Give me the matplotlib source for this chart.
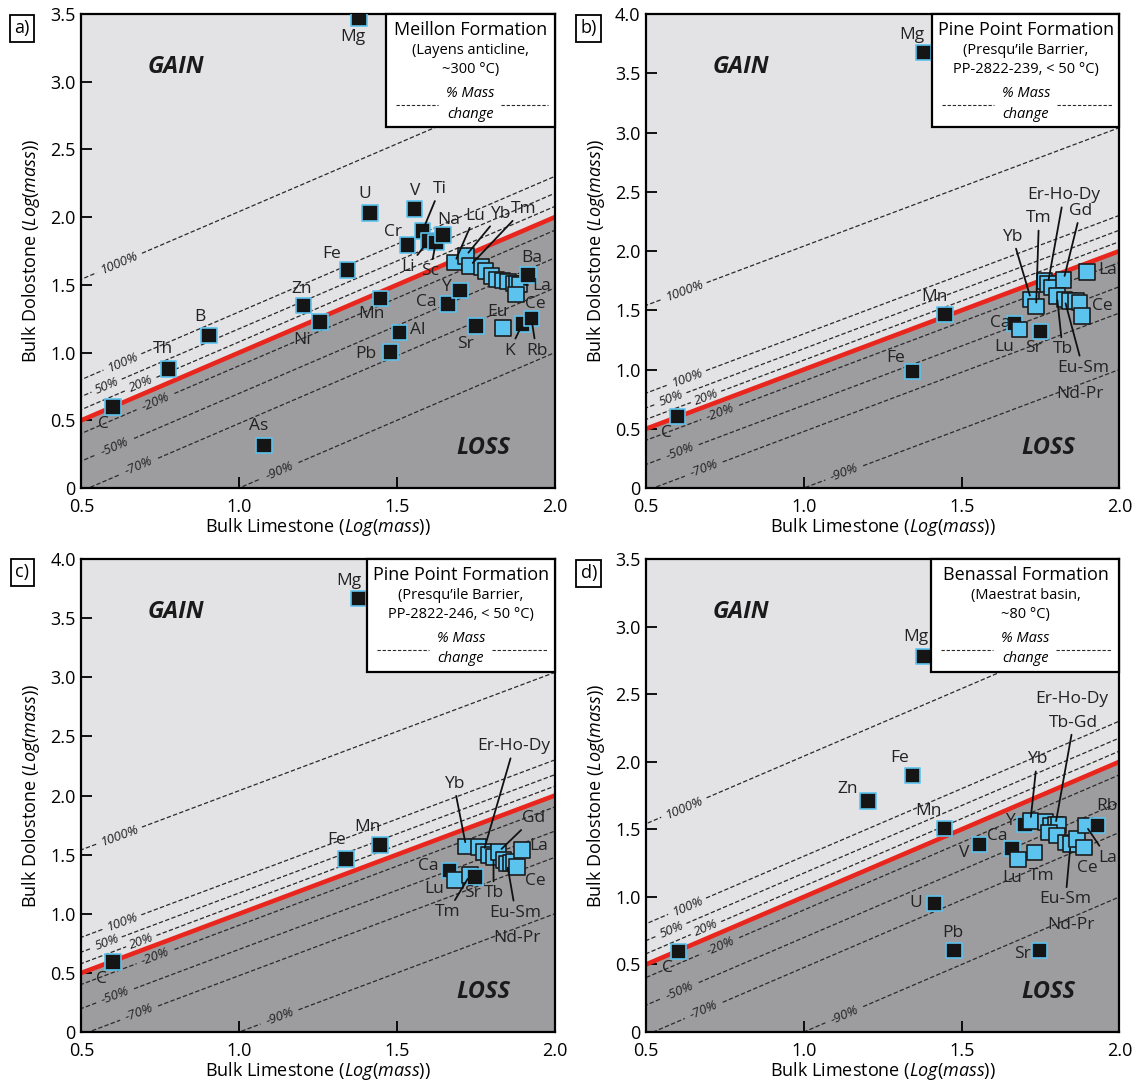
import numpy as np
import matplotlib.pyplot as plt
from matplotlib.patches import Rectangle

plt.rcParams['font.family'] = ['Open Sans', 'DejaVu Sans']
plt.rcParams['mathtext.fontset'] = 'custom'
plt.rcParams['mathtext.rm'] = 'Open Sans'
plt.rcParams['mathtext.it'] = 'Open Sans:italic'

# isocon lines (% mass change)
mass_change = [10.0, 1.0, 0.5, 0.2, -0.2, -0.5, -0.7, -0.9]
mass_change_labels = ['1000%', '100%', '50%', '20%', '-20%', '-50%', '-70%', '-90%']

REE = ['La', 'Ce', 'Pr', 'Nd', 'Sm', 'Eu', 'Gd', 'Tb', 'Dy', 'Ho', 'Er', 'Tm', 'Yb', 'Lu']

# a) Meillon Formation
a_elem = ['C', 'Th', 'B', 'Zn', 'Ni', 'Fe', 'Mg', 'U', 'Mn', 'Pb', 'Al', 'Cr', 'V', 'Ti',
          'Li', 'Sc', 'Na', 'Ca', 'Y', 'Sr', 'As', 'Lu', 'Yb', 'Tm', 'Er', 'Ho', 'Dy', 'Tb',
          'Gd', 'Sm', 'Nd', 'Pr', 'La', 'Ce', 'Eu', 'Ba', 'K', 'Rb']
a_x = [0.60, 0.776, 0.904, 1.204, 1.257, 1.344, 1.38, 1.414, 1.448, 1.479, 1.508, 1.533, 1.556, 1.581,
       1.600, 1.623, 1.646, 1.662, 1.700, 1.750, 1.079, 1.683, 1.718, 1.731, 1.768, 1.781, 1.799, 1.815,
       1.834, 1.852, 1.870, 1.880, 1.889, 1.878, 1.836, 1.916, 1.898, 1.926]
a_y = [0.60, 0.879, 1.126, 1.347, 1.227, 1.61, 3.47, 2.03, 1.40, 1.005, 1.15, 1.795, 2.06, 1.899,
       1.825, 1.813, 1.87, 1.36, 1.46, 1.197, 0.313, 1.665, 1.714, 1.64, 1.632, 1.603, 1.566, 1.541,
       1.534, 1.524, 1.509, 1.505, 1.504, 1.43, 1.183, 1.573, 1.213, 1.252]

# b) Pine Point Formation, PP-2822-239
b_elem = ['C', 'Fe', 'Mg', 'Mn', 'Ca', 'Lu', 'Sr', 'Yb', 'Tm', 'Er', 'Ho', 'Dy', 'Gd', 'Tb',
          'Eu', 'Sm', 'Nd', 'Pr', 'Ce', 'La']
b_x = [0.599, 1.345, 1.379, 1.447, 1.667, 1.683, 1.750, 1.720, 1.736, 1.762, 1.773, 1.787, 1.823, 1.802,
       1.826, 1.842, 1.863, 1.874, 1.882, 1.897]
b_y = [0.604, 0.982, 3.677, 1.463, 1.390, 1.337, 1.322, 1.590, 1.530, 1.748, 1.720, 1.692, 1.756, 1.620,
       1.592, 1.578, 1.578, 1.564, 1.451, 1.823]

# c) Pine Point Formation, PP-2822-246
c_elem = ['C', 'Fe', 'Mg', 'Mn', 'Ca', 'Lu', 'Tm', 'Sr', 'Yb', 'Er', 'Ho', 'Dy', 'Tb', 'Gd',
          'Eu', 'Sm', 'Nd', 'Pr', 'Ce', 'La']
c_x = [0.600, 1.339, 1.378, 1.446, 1.666, 1.684, 1.731, 1.747, 1.719, 1.758, 1.774, 1.790, 1.806, 1.822,
       1.838, 1.849, 1.862, 1.870, 1.881, 1.897]
c_y = [0.594, 1.463, 3.668, 1.584, 1.368, 1.284, 1.326, 1.312, 1.571, 1.566, 1.524, 1.496, 1.482, 1.524,
       1.453, 1.425, 1.430, 1.440, 1.397, 1.538]

# d) Benassal Formation
d_elem = ['C', 'Zn', 'Fe', 'Mg', 'U', 'Mn', 'Pb', 'V', 'Ca', 'Sr', 'Lu', 'Tm', 'Y', 'Yb',
          'Er', 'Ho', 'Dy', 'Gd', 'Tb', 'Nd', 'Eu', 'Sm', 'Pr', 'Ce', 'La', 'Rb']
d_x = [0.603, 1.204, 1.344, 1.379, 1.414, 1.446, 1.475, 1.557, 1.660, 1.746, 1.678, 1.731, 1.700, 1.718,
       1.765, 1.781, 1.797, 1.807, 1.776, 1.802, 1.829, 1.845, 1.866, 1.887, 1.893, 1.930]
d_y = [0.597, 1.708, 1.897, 2.779, 0.952, 1.505, 0.602, 1.387, 1.357, 0.602, 1.278, 1.327, 1.537, 1.561,
       1.553, 1.524, 1.531, 1.531, 1.477, 1.453, 1.403, 1.390, 1.427, 1.365, 1.529, 1.529]

titles = ['Meillon Formation', 'Pine Point Formation', 'Pine Point Formation', 'Benassal Formation']
subtitles = [['(Layens anticline,', '~300 °C)'],
             ['(Presqu\u2019ile Barrier,', 'PP-2822-239, < 50 °C)'],
             ['(Presqu\u2019ile Barrier,', 'PP-2822-246, < 50 °C)'],
             ['(Maestrat basin,', '~80 °C)']]
panel_tags = ['a)', 'b)', 'c)', 'd)']
y_max = [3.5, 4.0, 4.0, 3.5]

# label placement: (text, element it points to, x, y, leader line)
a_labels = [('Mg', 'Mg', 1.361, 3.33, False), ('U', 'U', 1.398, 2.17, False),
            ('V', 'V', 1.557, 2.19, False), ('Ti', 'Ti', 1.636, 2.208, True),
            ('Cr', 'Cr', 1.488, 1.894, False), ('Na', 'Na', 1.665, 1.98, False),
            ('Lu', 'Lu', 1.747, 2.01, True), ('Yb', 'Yb', 1.826, 2.02, True),
            ('Tm', 'Tm', 1.902, 2.06, True), ('Li', 'Li', 1.535, 1.633, True),
            ('Sc', 'Sc', 1.606, 1.60, True), ('Ba', 'Ba', 1.926, 1.70, False),
            ('La', 'La', 1.958, 1.49, True), ('Ce', 'Ce', 1.939, 1.36, False),
            ('Eu', 'Eu', 1.82, 1.30, False), ('K', 'K', 1.857, 1.015, True),
            ('Rb', 'Rb', 1.942, 1.015, True), ('Sr', 'Sr', 1.718, 1.064, False),
            ('Al', 'Al', 1.566, 1.167, False), ('Pb', 'Pb', 1.402, 0.988, False),
            ('Ca', 'Ca', 1.594, 1.377, False), ('Y', 'Y', 1.655, 1.484, False),
            ('Mn', 'Mn', 1.418, 1.286, False), ('Ni', 'Ni', 1.201, 1.094, False),
            ('Zn', 'Zn', 1.198, 1.468, False), ('Fe', 'Fe', 1.294, 1.73, False),
            ('B', 'B', 0.876, 1.266, False), ('Th', 'Th', 0.757, 1.025, False),
            ('C', 'C', 0.57, 0.47, False), ('As', 'As', 1.062, 0.456, False)]
b_labels = [('Mg', 'Mg', 1.342, 3.823, False), ('Mn', 'Mn', 1.415, 1.61, False),
            ('Fe', 'Fe', 1.292, 1.10, False), ('C', 'C', 0.564, 0.463, False),
            ('Ca', 'Ca', 1.622, 1.396, False), ('Lu', 'Lu', 1.634, 1.188, False),
            ('Sr', 'Sr', 1.728, 1.18, False), ('Tb', 'Tb', 1.82, 1.17, True),
            ('Eu-Sm', 'Eu', 1.884, 1.015, True), ('Nd-Pr', None, 1.874, 0.792, False),
            ('Ce', 'Ce', 1.946, 1.536, False), ('La', 'La', 1.962, 1.841, False),
            ('Yb', 'Yb', 1.661, 2.122, True), ('Tm', 'Tm', 1.745, 2.275, True),
            ('Er-Ho-Dy', 'Ho', 1.824, 2.471, True), ('Gd', 'Gd', 1.877, 2.339, True)]
c_labels = [('Mg', 'Mg', 1.348, 3.817, False), ('Fe', 'Fe', 1.31, 1.626, False),
            ('Mn', 'Mn', 1.407, 1.733, False), ('C', 'C', 0.564, 0.449, False),
            ('Ca', 'Ca', 1.599, 1.402, False), ('Lu', 'Lu', 1.619, 1.211, False),
            ('Tm', 'Tm', 1.661, 1.015, True), ('Sr', 'Sr', 1.74, 1.172, False),
            ('Tb', 'Tb', 1.806, 1.172, True), ('Eu-Sm', 'Sm', 1.876, 1.009, True),
            ('Nd-Pr', None, 1.879, 0.799, False), ('Ce', 'Ce', 1.938, 1.276, False),
            ('La', 'La', 1.949, 1.57, False), ('Gd', 'Gd', 1.932, 1.808, True),
            ('Er-Ho-Dy', 'Ho', 1.871, 2.417, True), ('Yb', 'Yb', 1.68, 2.1, True)]
d_labels = [('Mg', 'Mg', 1.355, 2.926, False), ('Fe', 'Fe', 1.303, 2.03, False),
            ('Zn', 'Zn', 1.139, 1.796, False), ('Mn', 'Mn', 1.396, 1.635, False),
            ('C', 'C', 0.568, 0.473, False), ('V', 'V', 1.507, 1.328, False),
            ('Ca', 'Ca', 1.612, 1.451, False), ('Y', 'Y', 1.652, 1.561, False),
            ('Lu', 'Lu', 1.66, 1.142, False), ('Tm', 'Tm', 1.755, 1.154, False),
            ('Yb', 'Yb', 1.739, 2.018, True), ('Er-Ho-Dy', None, 1.85, 2.462, False),
            ('Tb-Gd', 'Dy', 1.855, 2.29, True), ('Eu-Sm', 'Sm', 1.829, 0.982, True),
            ('Nd-Pr', None, 1.845, 0.795, False), ('Ce', 'Ce', 1.898, 1.215, False),
            ('La', 'La', 1.962, 1.29, True), ('Rb', 'Rb', 1.959, 1.672, False),
            ('U', 'U', 1.355, 0.952, False), ('Pb', 'Pb', 1.472, 0.731, False),
            ('Sr', 'Sr', 1.694, 0.578, False)]

LIGHT = '#e3e3e5'
DARK = '#9d9d9f'
RED = '#e8261e'
BLUE = '#5cc3ee'
INK = '#1c1c1c'
pct_label_x = [0.62, 0.63, 0.58, 0.69, 0.735, 0.607, 0.683, 1.128]


def draw_panel(ax, elem, xs, ys, labels, ymax, title, sub, box_x):
    xx = np.array([0.5, 2.0])
    ax.fill_between(xx, xx, ymax + 1, color=LIGHT, lw=0, zorder=0)
    ax.fill_between(xx, -1, xx, color=DARK, lw=0, zorder=0)

    # % mass change lines, broken where the label sits
    for p, txt, lx in zip(mass_change, mass_change_labels, pct_label_x):
        off = np.log10(1 + p)
        half = len(txt) * 0.012 + 0.012
        for x0, x1 in [(0.5 - 1.5, lx - half), (lx + half, 2.0)]:
            seg = np.array([x0, x1])
            ax.plot(seg, seg + off, color='#2a2a2a', lw=0.9, ls=(0, (3.5, 1.8)), zorder=1)
        ax.text(lx, lx + off, txt, rotation=45, transform_rotates_text=True,
                rotation_mode='anchor', ha='center', va='center', fontsize=9.5,
                fontstyle='italic', color='#222222', zorder=1)

    ax.plot(xx, xx, color=RED, lw=3.3, zorder=2, solid_capstyle='butt')

    face = [BLUE if e in REE else '#151515' for e in elem]
    edge = [INK if e in REE else '#5cc3ee' for e in elem]
    ax.scatter(xs, ys, marker='s', s=125, c=face, edgecolors=edge, linewidths=1.2, zorder=5)

    pos = dict(zip(elem, zip(xs, ys)))
    for txt, target, tx, ty, leader in labels:
        if leader:
            ax.annotate(txt, xy=pos[target], xytext=(tx, ty), ha='center', va='center',
                        fontsize=12.5, color='#222222', zorder=20,
                        arrowprops=dict(arrowstyle='-', color='#111111', lw=1.3,
                                        shrinkA=1, shrinkB=3))
        else:
            ax.text(tx, ty, txt, ha='center', va='center', fontsize=12.5,
                    color='#222222', zorder=20)

    ax.text(0.2, 0.889, 'GAIN', transform=ax.transAxes, fontsize=17, fontweight='bold',
            fontstyle='italic', color='#1a1a1a', ha='center', va='center')
    ax.text(0.85, 0.084, 'LOSS', transform=ax.transAxes, fontsize=17, fontweight='bold',
            fontstyle='italic', color='#1a1a1a', ha='center', va='center')

    # formation box
    ax.add_patch(Rectangle((box_x, 0.761), 1 - box_x, 0.239, transform=ax.transAxes,
                           fc='white', ec='black', lw=1.6, zorder=30, clip_on=False))
    cx = (box_x + 1) / 2
    ax.text(cx, 0.966, title, transform=ax.transAxes, ha='center', va='center',
            fontsize=13, zorder=31)
    ax.text(cx, 0.923, sub[0], transform=ax.transAxes, ha='center', va='center',
            fontsize=10.5, zorder=31)
    ax.text(cx, 0.882, sub[1], transform=ax.transAxes, ha='center', va='center',
            fontsize=10.5, zorder=31)
    ax.text(cx, 0.832, '% Mass', transform=ax.transAxes, ha='center', va='center',
            fontsize=10.5, fontstyle='italic', zorder=31)
    ax.text(cx, 0.789, 'change', transform=ax.transAxes, ha='center', va='center',
            fontsize=10.5, fontstyle='italic', zorder=31)
    for x0, x1 in [(box_x + 0.02, cx - 0.068), (cx + 0.065, 0.985)]:
        ax.plot([x0, x1], [0.808, 0.808], transform=ax.transAxes, color='#2a2a2a',
                lw=0.8, ls=(0, (3, 1.6)), zorder=31)

    ax.set_xlim(0.5, 2.0)
    ax.set_ylim(0, ymax)
    ax.set_xticks([0.5, 1.0, 1.5, 2.0])
    yt = np.arange(0, ymax + 0.01, 0.5)
    ax.set_yticks(yt)
    ax.set_yticklabels(['0' if v == 0 else f'{v:.1f}' for v in yt])
    ax.tick_params(direction='in', length=8, width=1.3, labelsize=13, pad=4)
    ax.tick_params(axis='x', pad=7)
    for s in ax.spines.values():
        s.set_linewidth(1.6)
    ax.set_xlabel(r'Bulk Limestone $\mathit{(Log(mass))}$', fontsize=13, labelpad=0)
    ax.set_ylabel(r'Bulk Dolostone $\mathit{(Log(mass))}$', fontsize=13, labelpad=6)


fig = plt.figure(figsize=(11.41, 10.86), dpi=100)
rects = [[0.0713, 0.5506, 0.4149, 0.4365], [0.5662, 0.5506, 0.4149, 0.4365],
         [0.0713, 0.0497, 0.4149, 0.4355], [0.5662, 0.0497, 0.4149, 0.4355]]
box_xs = [0.644, 0.605, 0.604, 0.603]
data = [(a_elem, a_x, a_y, a_labels), (b_elem, b_x, b_y, b_labels),
        (c_elem, c_x, c_y, c_labels), (d_elem, d_x, d_y, d_labels)]
tag_pos = [(0.0193, 0.974), (0.516, 0.974), (0.0193, 0.473), (0.516, 0.472)]

for i in range(4):
    ax = fig.add_axes(rects[i])
    elem, xs, ys, labs = data[i]
    draw_panel(ax, elem, xs, ys, labs, y_max[i], titles[i], subtitles[i], box_xs[i])
    fig.text(tag_pos[i][0], tag_pos[i][1], panel_tags[i], fontsize=13, ha='center', va='center',
             bbox=dict(boxstyle='square,pad=0.25', fc='white', ec='black', lw=1.3))

fig.savefig('out.png', dpi=100)
